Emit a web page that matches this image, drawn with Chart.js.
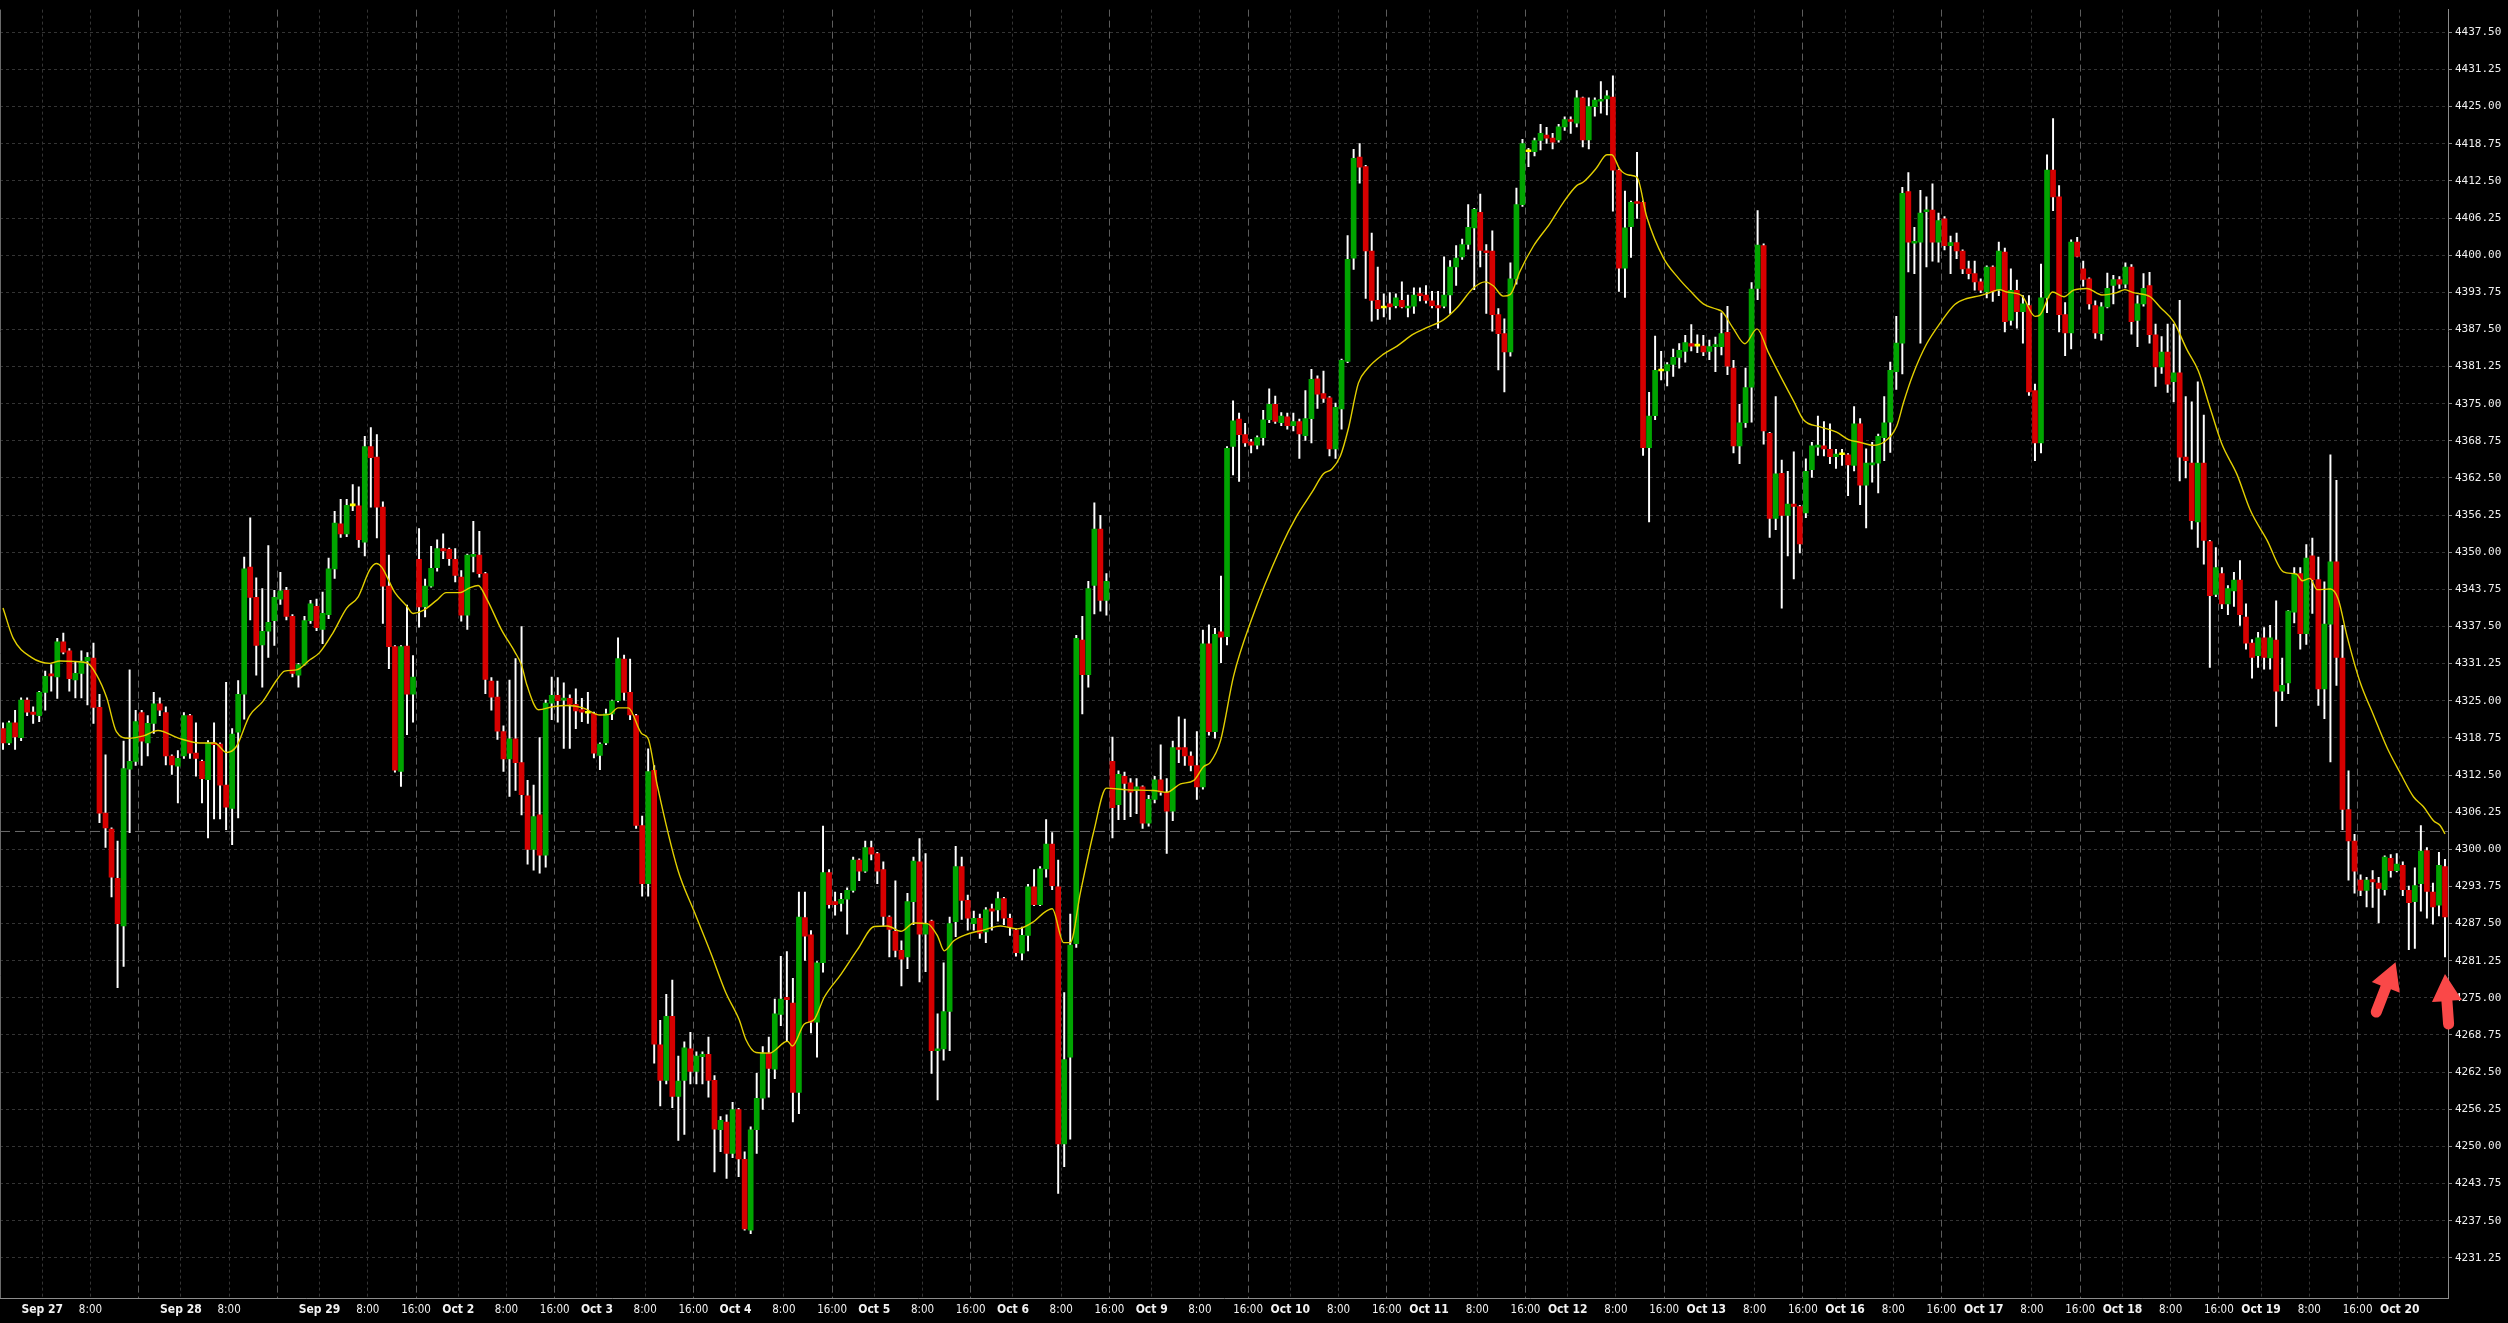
<!DOCTYPE html>
<html>
<head>
<meta charset="utf-8">
<title>Hourly candles with moving average</title>
<script src="https://cdn.jsdelivr.net/npm/chart.js@4.4.1/dist/chart.umd.min.js"></script>
<style>
  html, body { margin: 0; padding: 0; background: #000; }
  #wrap { position: relative; width: 2508px; height: 1323px; background: #000; }
</style>
</head>
<body>
<div id="wrap"><canvas id="priceChart"></canvas></div>
<script>
// Hourly OHLC bars, Sep 26 17:00 to Oct 20 07:00 (23 bars per session day)
const opens = [
  4320.3, 4317.9, 4321.3, 4318.8, 4325.1, 4323.1, 4322.5, 4326.4, 4329.4, 4329.0,
  4334.9, 4333.4, 4328.5, 4329.6, 4331.7, 4332.2, 4323.9, 4306.1, 4303.4, 4295.1,
  4287.1, 4313.5, 4314.8, 4323.0, 4317.9, 4321.2, 4324.5, 4323.0, 4315.7, 4314.0,
  4315.7, 4322.5, 4316.2, 4314.8, 4311.7, 4317.8, 4317.7, 4310.8, 4306.9, 4319.7,
  4326.1, 4347.5, 4342.4, 4334.4, 4336.7, 4338.5, 4342.1, 4343.6, 4339.2, 4329.3,
  4331.1, 4338.5, 4340.9, 4337.0, 4339.5, 4347.2, 4354.8, 4353.1, 4357.8, 4357.8,
  4351.7, 4367.8, 4366.0, 4357.6, 4344.3, 4334.1, 4313.1, 4334.2, 4326.1, 4348.8,
  4340.8, 4344.3, 4347.4, 4350.6, 4350.5, 4348.8, 4345.8, 4339.4, 4349.3, 4349.5,
  4346.4, 4328.3, 4325.6, 4319.8, 4315.2, 4318.6, 4314.6, 4309.0, 4300.0, 4305.8,
  4299.0, 4324.6, 4325.9, 4325.1, 4325.4, 4324.4, 4323.5, 4322.9, 4322.9, 4315.8,
  4317.9, 4322.8, 4325.0, 4332.0, 4326.4, 4322.5, 4304.0, 4294.2, 4313.3, 4267.1,
  4261.1, 4271.9, 4258.4, 4261.1, 4266.4, 4262.6, 4265.1, 4265.5, 4261.1, 4252.8,
  4254.1, 4248.8, 4256.2, 4247.8, 4235.9, 4252.8, 4258.1, 4265.7, 4263.0, 4272.2,
  4275.1, 4274.1, 4259.1, 4288.5, 4285.6, 4270.9, 4280.9, 4296.1, 4291.2, 4290.9,
  4291.6, 4293.1, 4298.2, 4296.3, 4300.3, 4299.3, 4296.6, 4288.6, 4286.2, 4283.0,
  4281.9, 4291.2, 4297.9, 4285.7, 4287.9, 4266.1, 4266.4, 4272.7, 4287.8, 4297.1,
  4291.4, 4287.5, 4288.4, 4286.1, 4290.0, 4289.8, 4291.7, 4288.4, 4286.4, 4282.5,
  4285.5, 4293.7, 4290.7, 4296.7, 4300.9, 4293.7, 4250.4, 4265.0, 4284.1, 4335.2,
  4329.4, 4344.4, 4353.9, 4341.9, 4314.8, 4307.5, 4312.3, 4311.2, 4309.9, 4310.5,
  4304.4, 4308.4, 4311.7, 4309.6, 4306.4, 4317.1, 4317.1, 4315.7, 4314.1, 4310.5,
  4334.6, 4319.8, 4336.6, 4335.8, 4367.8, 4372.4, 4369.8, 4368.6, 4368.0, 4369.3,
  4372.3, 4374.9, 4371.8, 4372.8, 4371.3, 4372.0, 4369.6, 4372.5, 4379.2, 4376.7,
  4376.0, 4367.4, 4374.1, 4382.1, 4399.5, 4416.5, 4414.9, 4400.7, 4392.4, 4391.1,
  4391.8, 4391.5, 4392.4, 4391.1, 4391.4, 4393.5, 4393.3, 4392.3, 4391.5, 4391.4,
  4393.3, 4398.0, 4399.7, 4401.8, 4404.6, 4407.2, 4400.7, 4400.7, 4390.0, 4386.8,
  4383.7, 4396.0, 4408.5, 4417.4, 4417.4, 4419.3, 4420.2, 4419.7, 4419.4, 4421.6,
  4422.7, 4422.2, 4426.5, 4419.4, 4425.0, 4425.9, 4426.3, 4426.6, 4414.3, 4397.8,
  4404.8, 4408.9, 4408.9, 4367.6, 4373.0, 4380.5, 4380.5, 4381.6, 4382.8, 4383.8,
  4385.1, 4384.7, 4384.7, 4383.8, 4384.6, 4384.6, 4387.0, 4381.0, 4367.9, 4371.8,
  4377.8, 4394.4, 4401.6, 4370.0, 4355.7, 4363.3, 4356.2, 4358.1, 4357.7, 4356.6,
  4363.9, 4367.7, 4367.9, 4367.3, 4366.1, 4366.4, 4366.4, 4364.6, 4371.6, 4361.3,
  4364.7, 4365.0, 4369.3, 4371.9, 4380.4, 4385.2, 4410.7, 4402.0, 4402.2, 4407.3,
  4407.6, 4402.2, 4406.1, 4401.6, 4402.1, 4400.7, 4397.7, 4396.9, 4395.5, 4393.8,
  4398.0, 4394.1, 4400.5, 4389.0, 4394.1, 4390.5, 4391.5, 4377.2, 4368.4, 4392.8,
  4414.3, 4409.8, 4390.0, 4386.9, 4402.2, 4397.7, 4396.0, 4391.5, 4386.8, 4391.3,
  4394.9, 4395.9, 4395.1, 4398.0, 4389.0, 4391.8, 4394.9, 4386.6, 4381.2, 4383.7,
  4378.7, 4380.2, 4366.0, 4365.0, 4355.1, 4365.0, 4351.8, 4342.9, 4346.4, 4341.3,
  4343.5, 4345.3, 4339.1, 4334.7, 4332.6, 4335.6, 4332.2, 4335.2, 4326.6, 4328.0,
  4339.9, 4346.4, 4336.3, 4349.4, 4345.4, 4327.0, 4337.9, 4348.4, 4332.2, 4306.7,
  4301.4, 4294.8, 4293.1, 4294.9, 4294.3, 4293.2, 4298.5, 4296.4, 4297.3, 4293.1,
  4291.2, 4294.2, 4299.8, 4292.8, 4290.6, 4297.1
];
const highs = [
  4321.3, 4321.6, 4323.4, 4325.5, 4325.5, 4324.0, 4326.6, 4330.0, 4331.1, 4335.5,
  4336.4, 4333.8, 4331.5, 4333.4, 4333.1, 4334.7, 4326.1, 4315.9, 4303.6, 4301.4,
  4318.2, 4330.2, 4323.4, 4323.4, 4322.5, 4326.4, 4325.5, 4324.0, 4315.9, 4316.6,
  4323.0, 4322.7, 4321.3, 4315.0, 4318.3, 4321.3, 4317.9, 4328.1, 4320.3, 4328.4,
  4349.2, 4355.8, 4345.7, 4343.9, 4351.1, 4343.6, 4346.6, 4344.1, 4339.5, 4331.3,
  4339.2, 4341.9, 4342.1, 4343.3, 4349.0, 4356.9, 4358.9, 4358.9, 4361.4, 4361.0,
  4369.5, 4371.0, 4369.8, 4358.5, 4349.5, 4334.3, 4334.3, 4341.1, 4332.6, 4354.0,
  4345.5, 4351.0, 4352.1, 4353.1, 4350.7, 4350.6, 4346.9, 4349.7, 4355.2, 4353.5,
  4346.6, 4328.9, 4328.3, 4320.8, 4328.5, 4332.1, 4337.5, 4311.6, 4310.8, 4318.8,
  4325.1, 4329.0, 4328.9, 4328.0, 4326.0, 4327.0, 4325.4, 4326.4, 4323.1, 4317.9,
  4323.6, 4325.1, 4335.6, 4332.7, 4332.0, 4322.7, 4305.6, 4316.9, 4314.1, 4271.2,
  4275.6, 4278.0, 4265.2, 4267.6, 4269.2, 4265.9, 4265.9, 4268.4, 4261.9, 4255.0,
  4255.3, 4257.4, 4256.4, 4249.1, 4253.3, 4262.3, 4266.8, 4268.4, 4274.8, 4282.0,
  4282.8, 4278.3, 4292.8, 4292.8, 4286.3, 4281.1, 4303.9, 4296.6, 4292.8, 4292.6,
  4293.5, 4298.7, 4298.4, 4301.4, 4301.4, 4299.5, 4297.9, 4288.8, 4294.7, 4284.6,
  4292.6, 4298.7, 4301.8, 4299.3, 4288.1, 4272.3, 4280.9, 4288.6, 4300.5, 4298.7,
  4292.3, 4289.6, 4289.1, 4290.2, 4290.8, 4292.8, 4291.9, 4289.1, 4286.6, 4286.9,
  4294.1, 4296.6, 4297.1, 4305.0, 4302.8, 4298.2, 4275.9, 4289.1, 4336.0, 4339.2,
  4345.1, 4358.3, 4356.2, 4346.4, 4318.9, 4313.2, 4313.0, 4311.9, 4311.9, 4310.7,
  4309.1, 4312.3, 4317.6, 4311.9, 4318.2, 4322.3, 4321.9, 4316.4, 4319.8, 4336.9,
  4337.8, 4337.2, 4346.0, 4367.8, 4375.5, 4373.4, 4371.7, 4369.0, 4369.6, 4373.9,
  4377.5, 4376.3, 4373.5, 4373.4, 4373.4, 4372.4, 4377.2, 4380.8, 4379.7, 4380.5,
  4376.2, 4375.1, 4382.5, 4403.3, 4417.8, 4418.8, 4415.1, 4403.7, 4398.0, 4393.5,
  4393.7, 4393.5, 4395.5, 4393.3, 4394.5, 4394.5, 4394.9, 4393.9, 4393.9, 4399.7,
  4399.1, 4401.6, 4402.7, 4408.5, 4407.9, 4410.3, 4401.8, 4404.1, 4391.0, 4389.3,
  4398.7, 4411.3, 4419.5, 4418.0, 4419.7, 4422.0, 4421.5, 4420.5, 4422.0, 4423.3,
  4423.3, 4427.7, 4426.6, 4426.5, 4426.5, 4429.2, 4427.7, 4430.2, 4414.5, 4410.8,
  4409.1, 4417.3, 4409.1, 4376.9, 4386.4, 4383.8, 4381.9, 4384.2, 4385.1, 4386.5,
  4388.3, 4386.6, 4386.5, 4385.7, 4386.2, 4390.3, 4391.4, 4382.3, 4374.9, 4381.0,
  4395.4, 4407.5, 4401.9, 4370.2, 4376.2, 4365.5, 4363.6, 4366.9, 4357.9, 4365.7,
  4368.5, 4372.9, 4372.0, 4371.6, 4367.3, 4367.3, 4366.6, 4374.5, 4372.5, 4367.4,
  4368.5, 4369.9, 4376.2, 4382.0, 4389.7, 4411.4, 4413.9, 4404.7, 4410.9, 4409.8,
  4412.0, 4407.1, 4406.5, 4403.2, 4403.7, 4400.9, 4399.0, 4399.0, 4396.0, 4398.2,
  4398.2, 4402.2, 4401.2, 4397.7, 4395.8, 4393.2, 4393.2, 4378.3, 4398.5, 4416.9,
  4423.0, 4411.7, 4392.0, 4402.6, 4403.0, 4399.0, 4396.2, 4392.3, 4392.0, 4397.0,
  4396.6, 4396.4, 4398.7, 4398.4, 4393.2, 4396.9, 4397.1, 4388.4, 4386.3, 4388.4,
  4388.4, 4392.4, 4376.2, 4375.3, 4378.7, 4373.1, 4352.0, 4350.8, 4347.4, 4344.4,
  4346.6, 4348.6, 4341.3, 4335.3, 4336.5, 4337.3, 4337.7, 4341.8, 4332.2, 4340.2,
  4347.4, 4347.4, 4351.3, 4352.4, 4349.2, 4345.0, 4366.4, 4362.1, 4337.7, 4313.2,
  4302.5, 4295.7, 4295.3, 4296.4, 4295.3, 4298.9, 4299.1, 4299.3, 4297.9, 4293.8,
  4296.9, 4304.0, 4300.3, 4294.3, 4299.5, 4298.3
];
const lows = [
  4316.8, 4317.6, 4316.8, 4318.3, 4322.5, 4321.2, 4321.5, 4323.4, 4326.6, 4325.4,
  4332.9, 4326.6, 4325.5, 4325.5, 4324.3, 4321.2, 4304.5, 4300.3, 4292.0, 4276.7,
  4280.3, 4302.8, 4314.1, 4314.1, 4315.7, 4319.5, 4322.5, 4314.2, 4312.6, 4307.8,
  4315.3, 4315.3, 4312.3, 4307.8, 4301.9, 4305.1, 4305.1, 4303.3, 4300.8, 4305.3,
  4321.9, 4338.6, 4329.3, 4327.3, 4332.3, 4334.3, 4341.2, 4338.6, 4329.0, 4327.3,
  4331.0, 4338.0, 4336.8, 4334.6, 4338.8, 4345.6, 4352.5, 4352.6, 4357.0, 4350.8,
  4349.4, 4357.6, 4352.4, 4338.0, 4330.4, 4313.0, 4310.6, 4319.3, 4321.4, 4337.4,
  4339.1, 4344.1, 4346.8, 4348.9, 4347.8, 4345.0, 4338.4, 4337.0, 4346.7, 4345.8,
  4326.2, 4323.4, 4318.5, 4313.1, 4308.9, 4309.9, 4305.8, 4297.5, 4296.5, 4296.0,
  4297.0, 4321.8, 4321.4, 4317.0, 4317.0, 4320.3, 4321.5, 4321.2, 4315.4, 4313.4,
  4317.6, 4321.8, 4324.8, 4325.1, 4321.8, 4303.5, 4292.1, 4292.1, 4264.0, 4256.8,
  4260.5, 4256.5, 4251.0, 4252.0, 4260.5, 4260.5, 4260.5, 4258.3, 4245.7, 4249.1,
  4244.6, 4248.1, 4244.9, 4235.9, 4235.3, 4248.8, 4256.2, 4258.3, 4261.4, 4270.3,
  4267.7, 4254.1, 4255.5, 4281.3, 4269.1, 4265.0, 4279.3, 4290.1, 4288.9, 4289.6,
  4285.7, 4292.8, 4294.7, 4296.1, 4298.2, 4294.2, 4287.1, 4281.9, 4281.9, 4277.0,
  4279.9, 4287.3, 4277.7, 4279.4, 4262.3, 4257.8, 4264.5, 4266.1, 4285.3, 4288.2,
  4286.4, 4286.4, 4285.0, 4284.3, 4286.4, 4287.9, 4287.3, 4285.5, 4282.0, 4281.4,
  4282.9, 4290.5, 4290.5, 4295.3, 4293.2, 4242.1, 4246.6, 4251.2, 4283.5, 4322.8,
  4327.3, 4339.6, 4340.1, 4339.4, 4301.9, 4305.0, 4305.0, 4305.5, 4306.0, 4303.5,
  4303.9, 4307.8, 4309.1, 4299.3, 4304.8, 4314.6, 4314.1, 4313.2, 4308.4, 4310.1,
  4319.2, 4318.7, 4331.4, 4334.4, 4363.0, 4361.9, 4367.8, 4366.7, 4367.4, 4368.0,
  4371.8, 4371.7, 4371.3, 4370.7, 4370.4, 4365.8, 4368.8, 4368.4, 4374.2, 4375.2,
  4366.2, 4365.8, 4370.7, 4381.9, 4397.6, 4412.1, 4392.7, 4388.9, 4389.2, 4389.6,
  4389.2, 4391.1, 4391.1, 4389.6, 4390.2, 4392.3, 4391.9, 4391.1, 4387.7, 4391.1,
  4390.2, 4394.9, 4399.3, 4401.0, 4394.2, 4398.0, 4390.2, 4387.2, 4380.7, 4377.0,
  4383.0, 4395.1, 4408.2, 4414.9, 4416.7, 4417.7, 4418.8, 4417.9, 4419.0, 4421.0,
  4420.5, 4421.6, 4418.2, 4417.9, 4423.4, 4423.9, 4423.6, 4407.4, 4393.9, 4392.9,
  4399.6, 4406.2, 4366.3, 4355.1, 4372.3, 4379.0, 4378.0, 4379.6, 4381.0, 4382.0,
  4383.9, 4383.6, 4383.1, 4382.4, 4380.4, 4383.2, 4379.9, 4366.7, 4364.9, 4371.0,
  4371.9, 4392.5, 4368.2, 4352.5, 4353.8, 4340.6, 4349.4, 4345.5, 4349.9, 4355.8,
  4362.6, 4366.3, 4366.2, 4364.9, 4364.1, 4364.6, 4359.5, 4363.7, 4358.0, 4354.1,
  4361.8, 4360.0, 4365.4, 4366.8, 4377.4, 4380.0, 4397.2, 4396.9, 4385.2, 4398.0,
  4399.0, 4398.8, 4400.9, 4396.9, 4399.4, 4396.9, 4396.0, 4394.1, 4393.7, 4392.8,
  4392.2, 4393.2, 4387.1, 4388.2, 4387.7, 4385.2, 4376.4, 4365.4, 4366.7, 4390.3,
  4407.5, 4387.1, 4383.1, 4384.2, 4399.7, 4394.8, 4390.9, 4386.0, 4385.7, 4391.1,
  4391.8, 4394.4, 4394.5, 4386.7, 4384.6, 4391.4, 4385.2, 4377.9, 4380.1, 4376.9,
  4375.3, 4362.0, 4362.5, 4353.9, 4350.8, 4348.0, 4330.6, 4342.5, 4340.5, 4339.5,
  4340.9, 4337.7, 4333.7, 4328.8, 4330.6, 4330.3, 4330.3, 4320.7, 4325.0, 4326.2,
  4338.1, 4333.7, 4334.5, 4339.7, 4324.2, 4322.0, 4314.7, 4327.6, 4303.3, 4294.8,
  4292.6, 4292.2, 4290.3, 4290.2, 4287.6, 4292.3, 4295.3, 4296.2, 4292.2, 4283.1,
  4283.3, 4289.6, 4288.4, 4287.4, 4288.8, 4281.9
];
const closes = [
  4317.9, 4321.3, 4318.9, 4325.1, 4323.1, 4322.7, 4326.4, 4329.1, 4329.2, 4334.9,
  4333.2, 4328.7, 4329.6, 4331.7, 4332.3, 4323.9, 4306.1, 4303.6, 4295.3, 4287.5,
  4313.6, 4314.8, 4321.5, 4318.2, 4321.2, 4324.5, 4323.4, 4315.7, 4314.2, 4315.3,
  4322.5, 4316.2, 4315.3, 4311.9, 4317.9, 4317.6, 4310.8, 4307.1, 4319.4, 4326.1,
  4347.2, 4342.4, 4334.3, 4336.7, 4338.2, 4342.4, 4343.5, 4339.2, 4329.6, 4331.1,
  4338.5, 4341.3, 4337.3, 4339.7, 4347.2, 4354.9, 4353.1, 4357.9, 4357.8, 4352.1,
  4367.8, 4365.9, 4357.6, 4344.3, 4334.1, 4313.3, 4334.1, 4326.1, 4329.0, 4340.8,
  4344.3, 4347.3, 4350.6, 4350.2, 4348.9, 4346.1, 4339.4, 4349.5, 4349.5, 4346.4,
  4328.6, 4325.6, 4319.9, 4315.2, 4318.6, 4314.6, 4309.2, 4300.0, 4305.5, 4299.0,
  4324.6, 4325.9, 4325.0, 4325.4, 4324.4, 4323.3, 4323.1, 4322.9, 4316.2, 4317.7,
  4322.8, 4325.0, 4332.1, 4326.4, 4322.6, 4304.0, 4294.2, 4313.1, 4267.2, 4261.1,
  4271.9, 4258.4, 4261.0, 4266.6, 4262.6, 4265.2, 4265.5, 4261.1, 4252.9, 4254.4,
  4248.8, 4256.2, 4247.9, 4236.1, 4252.8, 4258.1, 4265.7, 4263.1, 4272.3, 4274.8,
  4274.7, 4259.1, 4288.6, 4285.4, 4270.9, 4280.9, 4296.1, 4290.7, 4290.7, 4291.6,
  4293.1, 4298.2, 4296.3, 4300.3, 4299.2, 4296.3, 4288.7, 4286.5, 4283.0, 4281.5,
  4291.2, 4298.0, 4285.7, 4287.5, 4266.1, 4266.4, 4272.7, 4287.5, 4297.1, 4291.4,
  4288.4, 4288.4, 4285.9, 4289.8, 4289.6, 4291.7, 4288.4, 4286.9, 4282.6, 4285.5,
  4293.7, 4290.7, 4296.7, 4300.9, 4293.9, 4250.4, 4264.6, 4283.9, 4335.5, 4329.4,
  4343.9, 4353.9, 4341.9, 4345.1, 4307.0, 4312.6, 4311.1, 4309.6, 4310.5, 4304.4,
  4308.4, 4311.7, 4309.6, 4306.4, 4317.1, 4316.8, 4315.7, 4314.1, 4310.5, 4334.6,
  4319.8, 4336.2, 4335.7, 4367.5, 4372.1, 4369.8, 4368.4, 4368.0, 4369.3, 4372.3,
  4374.9, 4372.0, 4372.9, 4371.3, 4372.0, 4369.9, 4372.5, 4379.1, 4376.6, 4375.9,
  4367.4, 4374.4, 4382.3, 4399.3, 4416.3, 4414.8, 4400.7, 4392.4, 4391.0, 4391.1,
  4391.3, 4392.8, 4391.3, 4391.4, 4393.3, 4393.2, 4392.4, 4391.5, 4391.1, 4393.3,
  4398.0, 4399.5, 4401.8, 4404.7, 4407.7, 4400.8, 4400.4, 4390.0, 4386.8, 4383.7,
  4396.0, 4408.5, 4418.8, 4417.4, 4419.3, 4420.5, 4419.7, 4419.0, 4421.6, 4422.8,
  4422.5, 4426.5, 4419.4, 4425.0, 4426.1, 4426.2, 4426.8, 4414.3, 4397.8, 4404.6,
  4408.9, 4408.7, 4367.6, 4372.9, 4380.6, 4380.5, 4381.6, 4382.8, 4384.0, 4385.3,
  4384.7, 4384.7, 4383.7, 4384.6, 4384.8, 4386.8, 4381.3, 4367.9, 4371.8, 4377.7,
  4394.3, 4401.7, 4370.4, 4355.7, 4363.2, 4356.2, 4358.1, 4357.7, 4351.4, 4363.6,
  4367.9, 4368.0, 4367.4, 4366.1, 4366.5, 4366.4, 4364.7, 4371.6, 4361.3, 4365.0,
  4365.0, 4369.5, 4371.8, 4380.6, 4385.2, 4410.4, 4402.2, 4402.2, 4407.1, 4407.6,
  4402.2, 4405.8, 4401.6, 4402.1, 4400.7, 4397.7, 4396.9, 4395.5, 4394.1, 4398.0,
  4393.9, 4400.7, 4388.8, 4394.1, 4390.5, 4391.8, 4377.0, 4368.4, 4392.8, 4414.3,
  4409.8, 4390.0, 4386.9, 4402.2, 4399.8, 4395.9, 4391.8, 4386.9, 4391.3, 4394.4,
  4395.9, 4395.1, 4398.0, 4388.8, 4391.8, 4394.4, 4386.6, 4381.2, 4383.7, 4378.3,
  4380.2, 4366.0, 4365.4, 4355.3, 4365.0, 4352.0, 4342.7, 4347.4, 4341.3, 4343.9,
  4345.3, 4339.5, 4334.7, 4332.3, 4335.6, 4332.3, 4335.6, 4326.6, 4327.6, 4340.1,
  4346.4, 4336.3, 4349.0, 4345.4, 4327.0, 4337.9, 4348.4, 4332.3, 4306.7, 4301.4,
  4296.3, 4293.1, 4294.8, 4294.5, 4293.4, 4298.7, 4296.4, 4297.5, 4293.2, 4291.0,
  4293.9, 4299.7, 4292.9, 4290.3, 4297.3, 4288.6
];

// Moving average: bar position and value
const maBars = [
  0, 1.7, 4.7, 7.8, 9.4, 13.9, 15.5, 17.2, 18.8, 20.8, 23.3, 25.7, 29.1, 32.6, 35.1, 37.1, 38.7,
  40.9, 43.1, 45.4, 46.7, 48.7, 50.9, 52.5, 54.7, 57, 58.9, 60.8, 61.9, 62.8, 65, 66.9, 68,
  69.7, 71.9, 73.5, 75.8, 77.4, 78.8, 80.2, 82.7, 84.9, 86, 86.9, 88.8, 91.2, 93.5, 96.2, 99,
  100.6, 102, 103.7, 105.9, 107, 108.5, 111.9, 114.6, 117.4, 119.9, 122.1, 123.2, 124.9, 127.1,
  130.1, 130.9, 132.9, 134.5, 136.2, 139, 141.7, 144.5, 146.7, 148.9, 151.1, 153.3, 155, 156.1,
  157.7, 159.9, 162.6, 165.4, 168.2, 170.9, 172.6, 174, 175.9, 177, 178.7, 180.9, 183, 186.4,
  190.8, 193, 195.3, 197.5, 199.1, 200.2, 201.9, 204.1, 206.9, 212, 214.5, 217.1, 219, 220.4,
  221.8, 223.1, 224.8, 226.2, 228.9, 231.2, 233.9, 236.1, 238.9, 241.1, 243.9, 245.8, 247.2,
  248.8, 250, 251.6, 253.8, 256.6, 258.8, 261, 262.1, 264.3, 266, 266.8, 268.2, 269.6, 271,
  272.6, 275.4, 277.9, 279.8, 282, 284.2, 285.1, 287, 288.9, 290.9, 292.8, 294.8, 297, 298.6,
  301.4, 304.1, 306, 308, 310.2, 311.9, 314.1, 315.2, 316.8, 319, 321.3, 323.7, 325.7, 327.9,
  329.5, 331.1, 332.3, 334.8, 337, 337.8, 339.9, 341.8, 343.4, 345.6, 348.1, 350.6, 351.9,
  353.3, 356.1, 357.8, 360, 362.2, 364.1, 366.1, 368, 370.5, 372.7, 375.5, 378.2, 380.4, 381.3,
  382.6, 383.8, 386, 387.3, 388.7, 390.9, 393.1, 395.4, 397.6, 399.8, 401.4, 403.1, 404.2, 405
];
const maValues = [
  4340.6, 4335.5, 4332.3, 4331.3, 4331.7, 4331.4, 4329.4, 4325.5, 4319.8, 4318.7, 4319.1, 4320.0, 4318.7, 4317.9, 4317.9, 4316.3, 4317.3,
  4322.5, 4324.9, 4328.5, 4330.0, 4330.2, 4331.9, 4333.1, 4336.4, 4340.6, 4342.5, 4347.0, 4348.1, 4347.5, 4343.2, 4341.0, 4339.7,
  4340.2, 4341.9, 4343.2, 4343.2, 4344.0, 4344.4, 4342.2, 4336.9, 4333.2, 4331.0, 4327.6, 4323.5, 4324.0, 4324.2, 4323.8, 4322.6,
  4322.7, 4323.8, 4323.8, 4319.5, 4318.6, 4310.8, 4296.6, 4289.6, 4282.5, 4275.8, 4271.3, 4268.0, 4265.8, 4265.7,
  4267.7, 4266.9, 4270.6, 4271.3, 4275.1, 4279.0, 4283.1, 4287.0, 4287.1, 4286.2, 4287.6, 4287.5, 4285.4, 4282.9,
  4284.6, 4285.7, 4286.4, 4287.1, 4286.6, 4287.8, 4289.3, 4290.0, 4284.3, 4284.3, 4292.8, 4303.0, 4310.3, 4310.0,
  4309.9, 4309.6, 4311.0, 4311.6, 4313.9, 4314.6, 4318.2, 4329.2, 4338.2, 4351.0, 4356.0, 4360.1, 4363.2, 4364.0,
  4366.2, 4370.7, 4378.5, 4380.8, 4383.3, 4384.7, 4386.7, 4387.8, 4389.1, 4391.1, 4394.5, 4395.5, 4394.8,
  4393.1, 4393.4, 4397.3, 4401.5, 4405.4, 4408.9, 4411.7, 4412.3, 4414.7, 4416.9, 4416.9, 4414.4, 4413.5, 4413.1,
  4406.5, 4399.5, 4396.1, 4394.0, 4391.8, 4390.9, 4390.5, 4387.6, 4385.1, 4387.6, 4383.6, 4379.6, 4375.4, 4372.3,
  4371.1, 4370.2, 4369.0, 4368.5, 4368.0, 4368.5, 4371.3, 4375.2, 4380.0, 4385.0, 4388.6, 4391.7, 4392.7, 4393.2,
  4393.7, 4394.2, 4393.8, 4393.2, 4389.7, 4389.9, 4393.8, 4393.0, 4394.1, 4394.4, 4393.3, 4393.7, 4394.2,
  4393.7, 4393.0, 4391.2, 4388.8, 4384.1, 4380.5, 4374.1, 4368.2, 4363.1, 4357.1, 4352.0, 4346.7, 4346.3, 4345.2,
  4345.6, 4343.7, 4343.8, 4342.1, 4336.1, 4328.2, 4322.7, 4317.1, 4312.8, 4308.8, 4307.2, 4304.8, 4304.0, 4302.6
];

// Axis labels
const dayLabels = ['Sep 27', 'Sep 28', 'Sep 29', 'Oct 2', 'Oct 3', 'Oct 4', 'Oct 5', 'Oct 6', 'Oct 9',
  'Oct 10', 'Oct 11', 'Oct 12', 'Oct 13', 'Oct 16', 'Oct 17', 'Oct 18', 'Oct 19', 'Oct 20'];
const hourLabels = ['8:00', '16:00'];
const hiddenAfternoon = ['Sep 27', 'Sep 28'];   // the 16:00 label is not printed on these days
const yTicks = [
  4231.25, 4237.50, 4243.75, 4250.00, 4256.25, 4262.50, 4268.75, 4275.00, 4281.25, 4287.50,
  4293.75, 4300.00, 4306.25, 4312.50, 4318.75, 4325.00, 4331.25, 4337.50, 4343.75, 4350.00,
  4356.25, 4362.50, 4368.75, 4375.00, 4381.25, 4387.50, 4393.75, 4400.00, 4406.25, 4412.50,
  4418.75, 4425.00, 4431.25, 4437.50
];
const priceLevel = 4303.0;   // dashed horizontal line

// Red arrows drawn on the picture (bar index / price)
const arrows = [
  { fromBar: 393.6, fromPrice: 4272.6, toBar: 396.8, toPrice: 4281.0 },
  { fromBar: 405.6, fromPrice: 4270.6, toBar: 405.0, toPrice: 4279.0 }
];

const BARS_PER_DAY = 23;
const FIRST_DAY_BAR = 7;
const nBars = opens.length;

// x ticks: day start, 8:00, 16:00 (session break)
const xTickValues = [];
const xTickLabels = [];
const xTickIsDay = [];
const sessionTicks = [];
dayLabels.forEach((day, d) => {
  const start = FIRST_DAY_BAR + BARS_PER_DAY * d - 0.5;
  xTickValues.push(start); xTickLabels.push(day); xTickIsDay.push(true);
  if (d === dayLabels.length - 1) return;
  xTickValues.push(start + 8); xTickLabels.push(hourLabels[0]); xTickIsDay.push(false);
  xTickValues.push(start + 16);
  xTickLabels.push(hiddenAfternoon.includes(day) ? '' : hourLabels[1]);
  xTickIsDay.push(false);
  sessionTicks.push(start + 16);
});

const UP = '#00a400';
const DOWN = '#d60000';
const DOJI = '#ffff00';
const GRID = '#343434';
const AXIS = '#8c8c8c';
const LABEL_FONT = "'DejaVu Sans Condensed', 'Liberation Sans Narrow', 'DejaVu Sans', sans-serif";

const bodyColors = opens.map((o, i) => closes[i] > o ? UP : (closes[i] < o ? DOWN : DOJI));
const wickData = opens.map((o, i) => ({ x: i, y: [lows[i], highs[i]] }));
const bodyData = opens.map((o, i) => ({ x: i, y: [o, closes[i]] }));
const maData = maBars.map((b, i) => ({ x: b, y: maValues[i] }));

const arrowPlugin = {
  id: 'arrows',
  afterDraw(chart) {
    const { ctx, scales: { x, y }, chartArea } = chart;
    ctx.save();
    // left frame line
    ctx.strokeStyle = '#6a6a6a';
    ctx.lineWidth = 1;
    ctx.beginPath();
    ctx.moveTo(chartArea.left + 0.5, chartArea.top);
    ctx.lineTo(chartArea.left + 0.5, chartArea.bottom);
    ctx.stroke();

    ctx.fillStyle = '#fa4848';
    arrows.forEach(a => {
      const x0 = x.getPixelForValue(a.fromBar), y0 = y.getPixelForValue(a.fromPrice);
      const x1 = x.getPixelForValue(a.toBar), y1 = y.getPixelForValue(a.toPrice);
      const len = Math.hypot(x1 - x0, y1 - y0);
      const head = 27, hw = 15, sw = 5.5;
      ctx.save();
      ctx.translate(x0, y0);
      ctx.rotate(Math.atan2(y1 - y0, x1 - x0));
      ctx.beginPath();
      ctx.moveTo(0, -sw);
      ctx.lineTo(len - head, -sw);
      ctx.lineTo(len - head, -hw);
      ctx.lineTo(len, 0);
      ctx.lineTo(len - head, hw);
      ctx.lineTo(len - head, sw);
      ctx.lineTo(0, sw);
      ctx.arc(0, 0, sw, Math.PI / 2, Math.PI * 1.5);
      ctx.closePath();
      ctx.fill();
      ctx.restore();
    });
    ctx.restore();
  }
};

new Chart(document.getElementById('priceChart'), {
  type: 'bar',
  data: {
    datasets: [
      {
        type: 'line',
        label: 'Level',
        data: [{ x: -0.5, y: priceLevel }, { x: nBars - 0.5, y: priceLevel }],
        borderColor: '#6a6a6a',
        borderWidth: 1,
        borderDash: [10, 5],
        pointRadius: 0,
        order: 4
      },
      {
        label: 'Wicks',
        data: wickData,
        backgroundColor: '#ffffff',
        barThickness: 1.3,
        grouped: false,
        order: 3
      },
      {
        label: 'Bodies',
        data: bodyData,
        backgroundColor: bodyColors,
        barThickness: 5,
        minBarLength: 2,
        grouped: false,
        order: 2
      },
      {
        type: 'line',
        label: 'MA',
        data: maData,
        borderColor: '#e2cf00',
        borderWidth: 1.4,
        pointRadius: 0,
        cubicInterpolationMode: 'monotone',
        order: 1
      }
    ]
  },
  options: {
    responsive: true,
    maintainAspectRatio: false,
    animation: false,
    devicePixelRatio: 1,
    layout: { padding: { top: 6, left: 0, right: 0, bottom: 0 } },
    plugins: {
      legend: { display: false },
      tooltip: { enabled: false }
    },
    scales: {
      x: {
        type: 'linear',
        position: 'bottom',
        min: -0.5,
        max: nBars - 0.5,
        offset: false,
        afterBuildTicks: scale => { scale.ticks = xTickValues.map(v => ({ value: v })); },
        afterFit: scale => { scale.height = 25; },
        grid: {
          offset: false,
          drawTicks: false,
          color: ctx => (ctx.tick && sessionTicks.includes(ctx.tick.value)) ? 'rgba(0,0,0,0)' : GRID
        },
        border: { display: true, color: AXIS, width: 1, dash: [3, 3] },
        ticks: {
          autoSkip: false,
          maxRotation: 0,
          padding: 5,
          color: '#f2f2f2',
          callback: (value, index) => xTickLabels[index],
          font: ctx => xTickIsDay[ctx.index]
            ? { family: LABEL_FONT, size: 12, weight: 'bold' }
            : { family: LABEL_FONT, size: 11.5, weight: 'normal' }
        }
      },
      xs: {
        type: 'linear',
        position: 'bottom',
        min: -0.5,
        max: nBars - 0.5,
        offset: false,
        afterBuildTicks: scale => { scale.ticks = sessionTicks.map(v => ({ value: v })); },
        afterFit: scale => { scale.height = 0; },
        grid: { offset: false, drawTicks: false, color: '#5c5c5c' },
        border: { display: false, dash: [7, 4] },
        ticks: { display: false }
      },
      y: {
        type: 'linear',
        position: 'right',
        min: 4224.48,
        max: 4441.33,
        afterBuildTicks: scale => { scale.ticks = yTicks.map(v => ({ value: v })); },
        afterFit: scale => { scale.width = 60; },
        grid: {
          color: GRID,
          drawTicks: true,
          tickLength: 4,
          tickColor: AXIS,
          tickBorderDash: []
        },
        border: { display: true, color: AXIS, width: 1, dash: [3, 3] },
        ticks: {
          padding: 3,
          color: '#f0f0f0',
          font: { family: "'DejaVu Sans Mono', monospace", size: 11 },
          callback: v => Number(v).toFixed(2)
        }
      }
    }
  },
  plugins: [arrowPlugin]
});
</script>
</body>
</html>
